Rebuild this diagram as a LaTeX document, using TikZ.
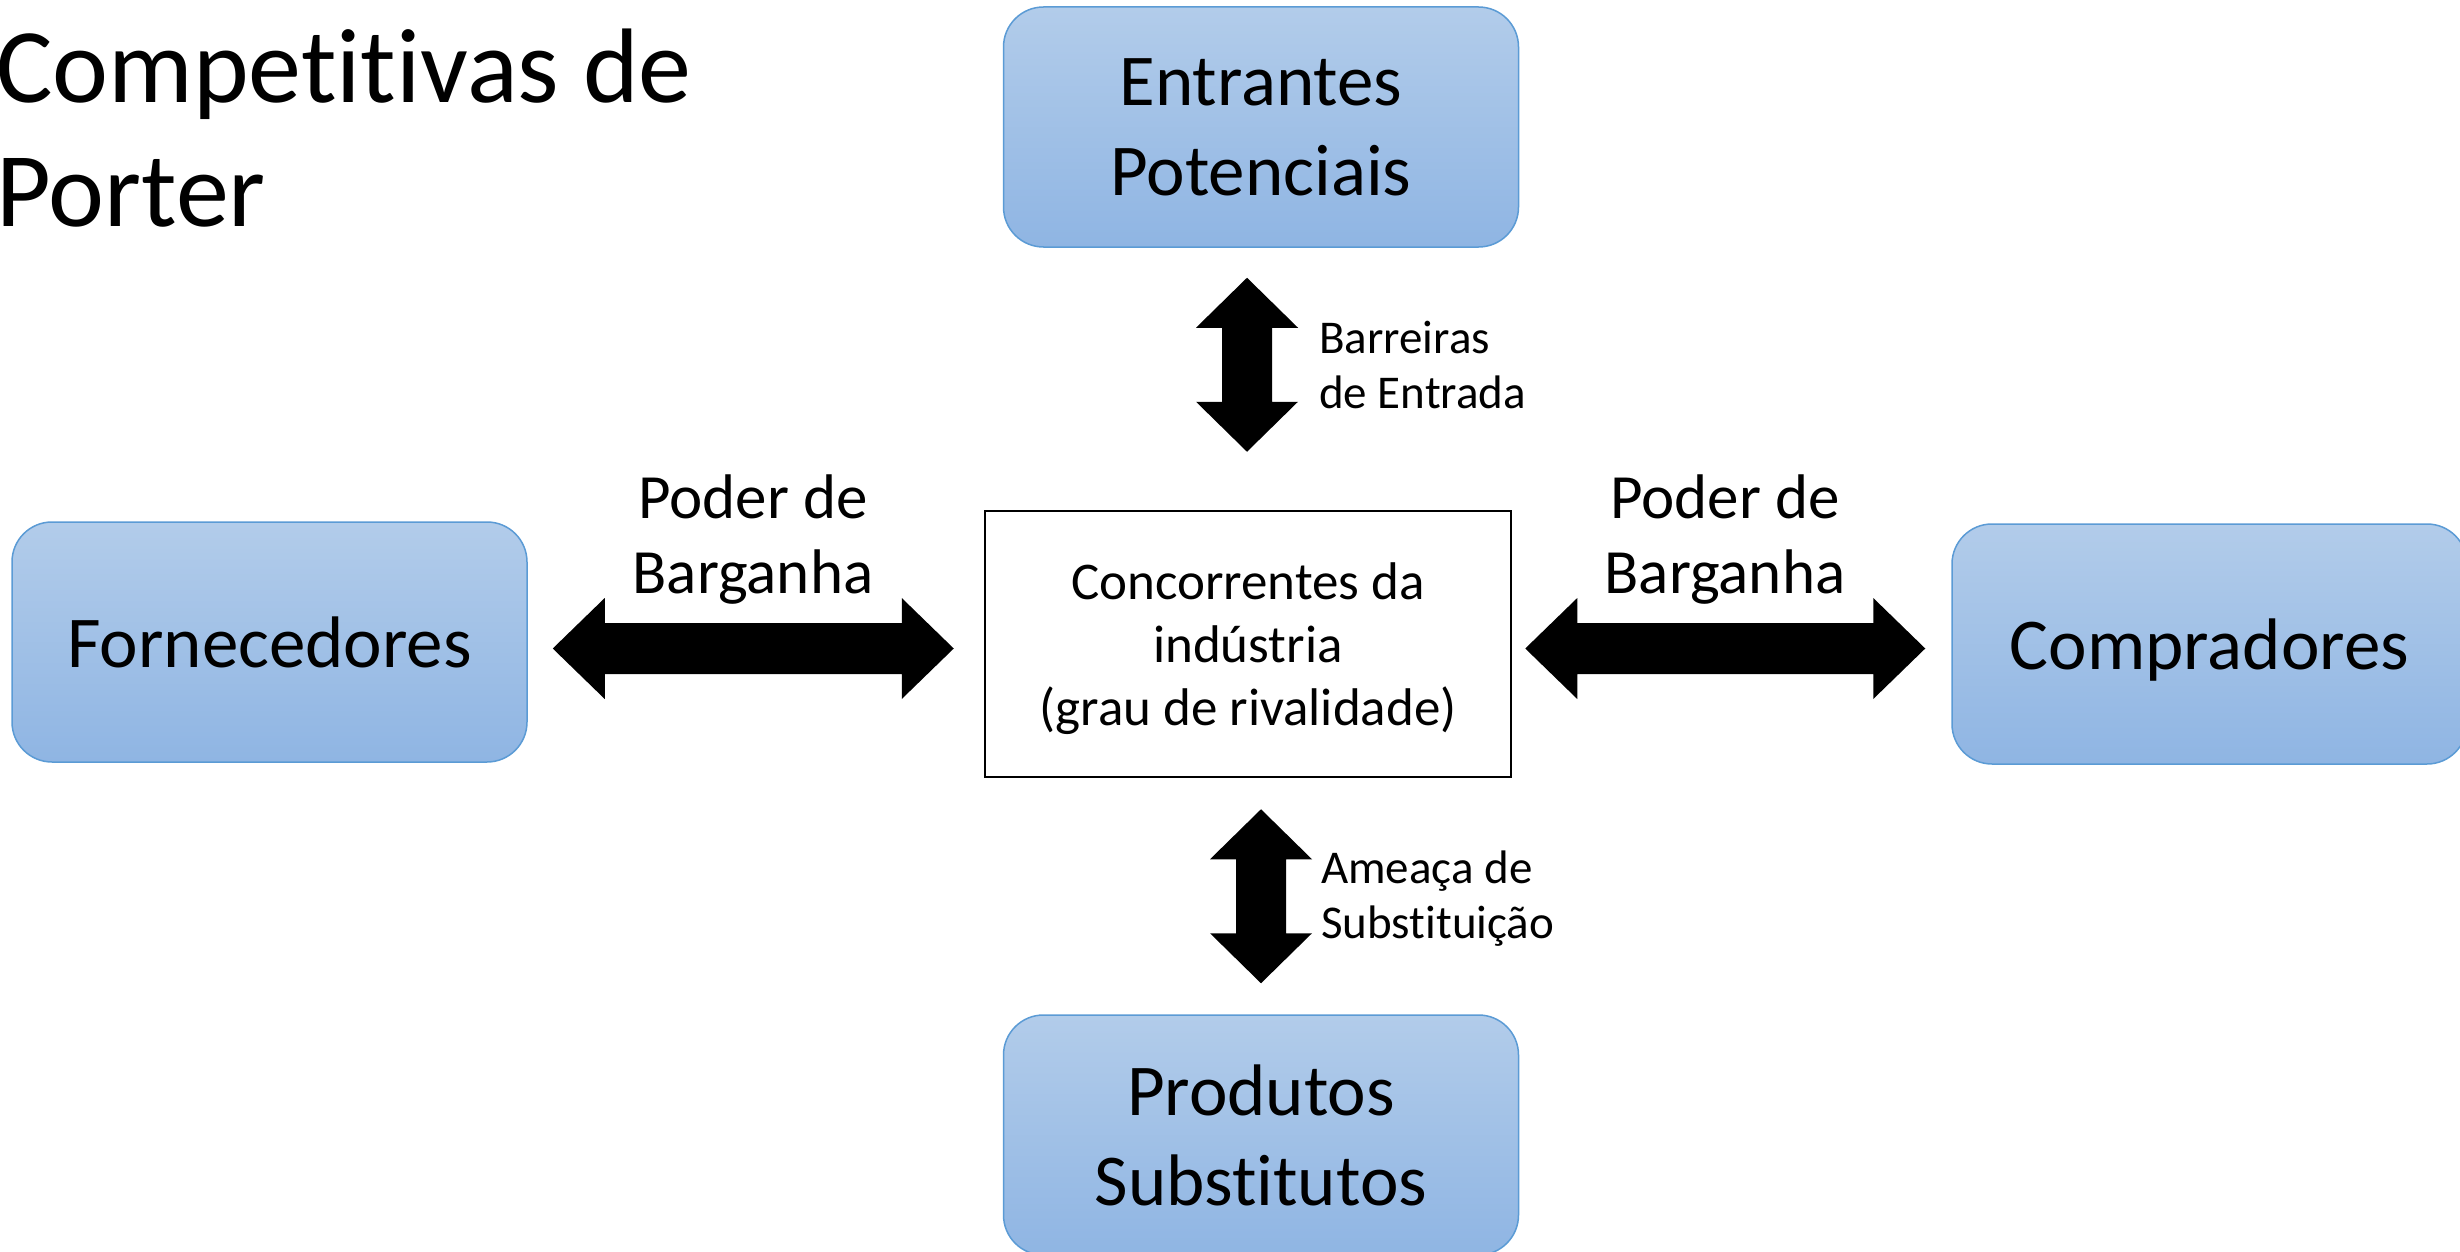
\documentclass[tikz,border=0pt]{standalone}
\usepackage{fontspec}
\setmainfont{Carlito}[Ligatures={NoCommon}]
\usetikzlibrary{calc}
\definecolor{boxtop}{RGB}{178,204,234}
\definecolor{boxbot}{RGB}{143,181,227}
\definecolor{boxedge}{RGB}{91,155,213}
\tikzset{
  force/.style={draw=boxedge, line width=1.5pt, rounded corners=40pt,
    top color=boxtop, bottom color=boxbot, minimum width=515pt,
    minimum height=240pt, inner sep=0pt, align=center,
    font=\fontsize{73}{90}\selectfont},
  forceone/.style={force, text depth=0pt},
  rivalry/.style={draw=black, line width=2.5pt, fill=white, minimum width=526pt,
    minimum height=266pt, inner sep=0pt, align=center,
    font=\fontsize{53}{63}\selectfont},
  biglabel/.style={inner sep=0pt, align=center, font=\fontsize{63}{75}\selectfont},
  smalllabel/.style={inner sep=0pt, align=left, anchor=west,
    font=\fontsize{47}{55}\selectfont},
  titletext/.style={inner sep=0pt, align=left, anchor=west,
    font=\fontsize{106}{124}\selectfont},
  blockfill/.style={fill=black}
}
% horizontal double block arrow between two tip coordinates (#1 left, #2 right)
\newcommand\hbarrow[2]{%
  \fill[blockfill] (#1) -- ([shift={(52,-50.5)}]#1) -- ([shift={(52,-25.5)}]#1)
    -- ([shift={(-52,-25.5)}]#2) -- ([shift={(-52,-50.5)}]#2) -- (#2)
    -- ([shift={(-52,50.5)}]#2) -- ([shift={(-52,25.5)}]#2)
    -- ([shift={(52,25.5)}]#1) -- ([shift={(52,50.5)}]#1) -- cycle;}
% vertical double block arrow between two tip coordinates (#1 top, #2 bottom)
\newcommand\vbarrow[2]{%
  \fill[blockfill] (#1) -- ([shift={(51,50)}]#1) -- ([shift={(25,50)}]#1)
    -- ([shift={(25,-50)}]#2) -- ([shift={(51,-50)}]#2) -- (#2)
    -- ([shift={(-51,-50)}]#2) -- ([shift={(-25,-50)}]#2)
    -- ([shift={(-25,50)}]#1) -- ([shift={(-51,50)}]#1) -- cycle;}
\begin{document}
\begin{tikzpicture}[x=1pt, y=-1pt]
  \useasboundingbox (0,0) rectangle (2460,1252);
  \clip (0,0) rectangle (2460,1252);
  \fill[white] (0,0) rectangle (2460,1252);

  % title
  \node[titletext] (title) at (-4,140) {\strut Competitivas de\\\strut Porter};

  % boxes
  \node[force] (entr) at (1261,127) {Entrantes\\Potenciais};
  \node[forceone] (forn) at (269.5,642) {Fornecedores};
  \node[rivalry] (cen) at (1248,644) {\rule{0pt}{47pt}Concorrentes da\\ind\'ustria\\(grau de rivalidade)};
  \node[forceone] (comp) at (2209.5,644) {Compradores};
  \node[force] (prod) at (1261,1135) {Produtos\\Substitutos};

  % arrow end points
  \coordinate (lA) at ([shift={(25,6.5)}]forn.east);
  \coordinate (lB) at ([shift={(-30,4.5)}]cen.west);
  \coordinate (rA) at ([shift={(13,4.5)}]cen.east);
  \coordinate (rB) at ([shift={(-26,4.5)}]comp.west);
  \coordinate (tA) at ([shift={(-14,30)}]entr.south);
  \coordinate (tB) at ([shift={(-1,-58)}]cen.north);
  \coordinate (bA) at ([shift={(13,31)}]cen.south);
  \coordinate (bB) at ([shift={(0,-31)}]prod.north);

  \hbarrow{lA}{lB}
  \hbarrow{rA}{rB}
  \vbarrow{tA}{tB}
  \vbarrow{bA}{bB}

  % labels
  \node[biglabel] (lblL) at (753,540.5) {\strut Poder de\\\strut Barganha};
  \node[biglabel] (lblR) at (1725,540.5) {\strut Poder de\\\strut Barganha};
  \node[smalllabel] (lblT) at (1319,369.5) {\strut Barreiras\\\strut de Entrada};
  \node[smalllabel] (lblB) at (1321,899.5) {\strut Amea\c{c}a de\\\strut Substitui\c{c}\~ao};
\end{tikzpicture}
\end{document}
